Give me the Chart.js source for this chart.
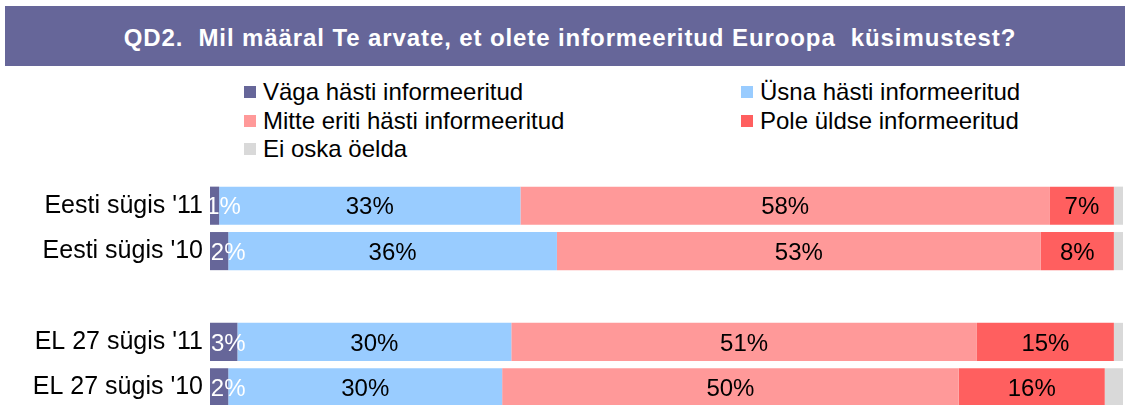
<!DOCTYPE html>
<html>
<head>
<meta charset="utf-8">
<script src="https://cdn.jsdelivr.net/npm/chart.js@4/dist/chart.umd.min.js"></script>
<style>
  html, body { margin:0; padding:0; background:#fff; width:1125px; height:405px; overflow:hidden; position:relative; font-family:"Liberation Sans", Arial, sans-serif; }
  #title { position:absolute; left:5px; top:6px; width:1120px; height:60px; background:#666699; color:#fff;
           font-weight:bold; font-size:24px; letter-spacing:0.9px; display:flex; align-items:center; justify-content:center;
           padding-left:10px; padding-top:4px; box-sizing:border-box; white-space:pre; }
  #legend { position:absolute; left:244px; top:78px; display:grid; grid-template-columns:497px 360px; grid-auto-rows:28.4px; }
  .item { display:flex; align-items:center; font-size:24px; color:#000; white-space:nowrap; }
  .box { width:12px; height:12px; margin-right:7px; flex:none; }
  #wrap { position:absolute; left:0; top:183px; width:1125px; height:227px; }
</style>
</head>
<body>
<div id="title"></div>
<div id="legend"></div>
<div id="wrap"><canvas id="c"></canvas></div>
<script>
const titleText = "QD2.  Mil määral Te arvate, et olete informeeritud Euroopa  küsimustest?";
const categories = ["Eesti sügis '11", "Eesti sügis '10", "", "EL 27 sügis '11", "EL 27 sügis '10"];
const seriesNames = ["Väga hästi informeeritud", "Üsna hästi informeeritud", "Mitte eriti hästi informeeritud", "Pole üldse informeeritud", "Ei oska öelda"];
const seriesColors = ["#666699", "#99CCFF", "#FF9999", "#FF5F5F", "#D9D9D9"];
const vagaHasti   = [1, 2, null, 3, 2];
const usnaHasti   = [33, 36, null, 30, 30];
const mitteEriti  = [58, 53, null, 51, 50];
const poleUldse   = [7, 8, null, 15, 16];
const eiOska      = [1, 1, null, 1, 2];
const seriesValues = [vagaHasti, usnaHasti, mitteEriti, poleUldse, eiOska];
const labelColors = ["#fff", "#000", "#000", "#000", null];

document.getElementById('title').textContent = titleText;

const FONT = '"Liberation Sans", Arial, sans-serif';

const labelPlugin = {
  id: 'segLabels',
  afterDatasetsDraw(chart) {
    const ctx = chart.ctx;
    ctx.save();
    ctx.font = '24px ' + FONT;
    ctx.textBaseline = 'middle';
    ctx.textAlign = 'center';
    chart.data.datasets.forEach((ds, di) => {
      const col = labelColors[di];
      if (!col) return;
      chart.getDatasetMeta(di).data.forEach((bar, i) => {
        const v = ds.data[i];
        if (v == null) return;
        const t = v + '%';
        const w = ctx.measureText(t).width;
        const left = Math.min(bar.x, bar.base);
        const right = Math.max(bar.x, bar.base);
        let cx = (left + right) / 2;
        if (w > right - left) cx = Math.min(cx + 9, left + w / 2 + 1);
        ctx.fillStyle = col;
        ctx.fillText(t, cx, bar.y + 2);
      });
    });
    ctx.restore();
  }
};

const chart = new Chart(document.getElementById('c'), {
  type: 'bar',
  data: {
    labels: categories,
    datasets: seriesNames.map((n, k) => ({
      label: n,
      data: seriesValues[k],
      backgroundColor: seriesColors[k],
      borderWidth: 0,
      barPercentage: 0.84,
      categoryPercentage: 1
    }))
  },
  options: {
    indexAxis: 'y',
    responsive: true,
    maintainAspectRatio: false,
    animation: false,
    layout: { padding: { left: 0, right: 2, top: 0, bottom: 0 } },
    plugins: { legend: { display: false }, tooltip: { enabled: false }, title: { display: false } },
    scales: {
      x: { stacked: true, min: 0, max: 100, display: false },
      y: {
        stacked: true,
        grid: { display: false, drawTicks: false },
        border: { display: false },
        ticks: { color: '#000', padding: 7, font: { family: FONT, size: 25 } },
        afterFit(scale) { scale.width = 210; scale.paddingTop = 0; scale.paddingBottom = 0; }
      }
    }
  },
  plugins: [labelPlugin]
});

const lg = document.getElementById('legend');
chart.data.datasets.forEach(ds => {
  const it = document.createElement('div');
  it.className = 'item';
  const b = document.createElement('span');
  b.className = 'box';
  b.style.background = ds.backgroundColor;
  const s = document.createElement('span');
  s.textContent = ds.label;
  it.appendChild(b); it.appendChild(s);
  lg.appendChild(it);
});
</script>
</body>
</html>
